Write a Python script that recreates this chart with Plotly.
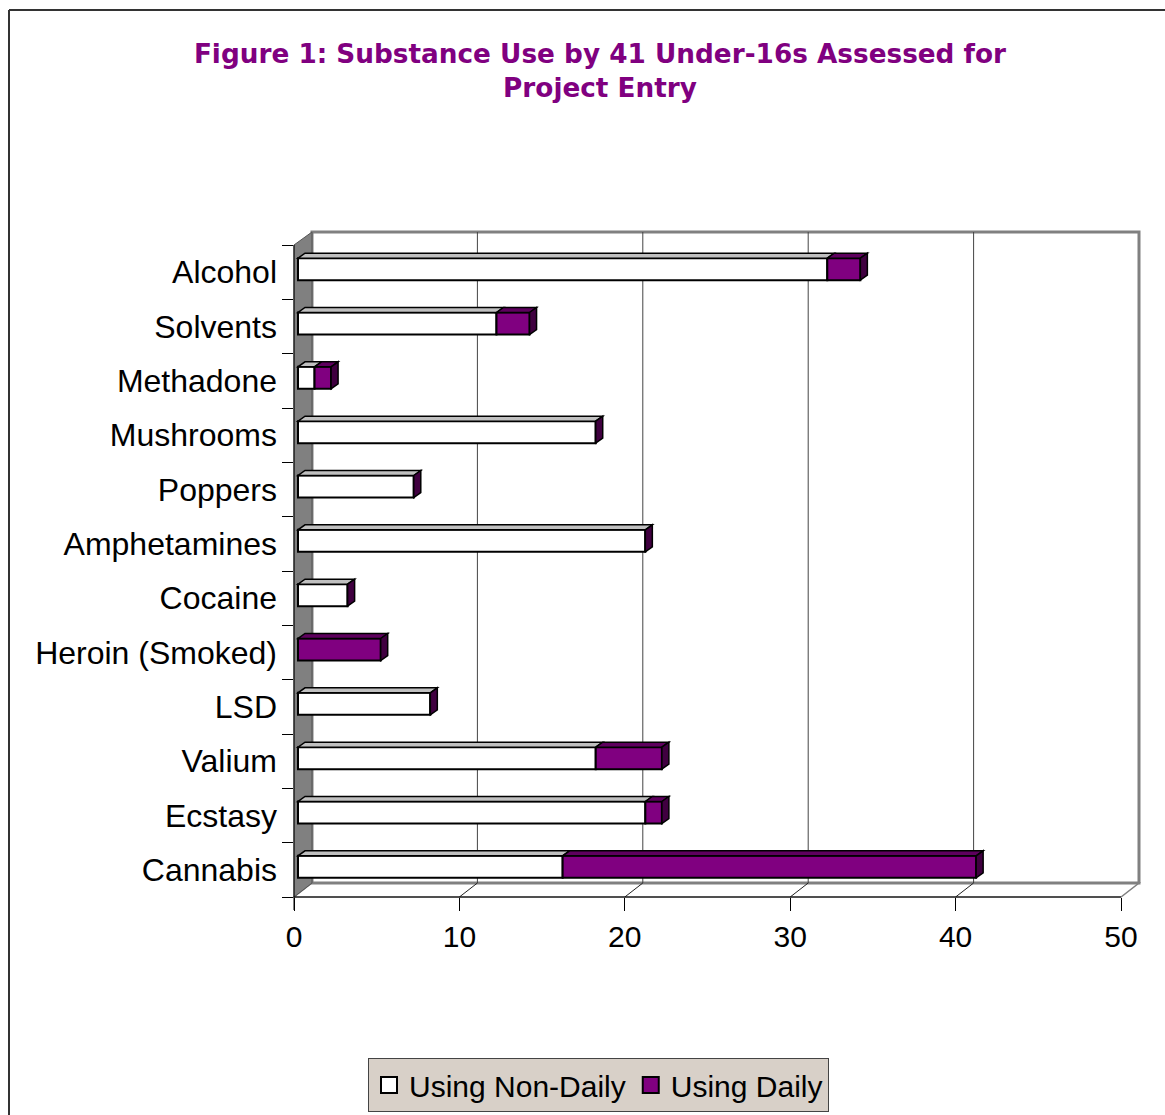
import plotly.graph_objects as go

# ---------------- data ----------------
categories = ["Alcohol", "Solvents", "Methadone", "Mushrooms", "Poppers",
              "Amphetamines", "Cocaine", "Heroin (Smoked)", "LSD", "Valium",
              "Ecstasy", "Cannabis"]
non_daily = [32, 12, 1, 18, 7, 21, 3, 0, 8, 18, 21, 16]
daily = [2, 2, 1, 0, 0, 0, 0, 5, 0, 4, 1, 25]
x_ticks = [0, 10, 20, 30, 40, 50]
series_names = ["Using Non-Daily", "Using Daily"]
title_text = "Figure 1: Substance Use by 41 Under-16s Assessed for<br>Project Entry"

# ---------------- geometry (pixels) ----------------
W, H = 1165, 1115
L, R, T, B = 294, 1145, 225, 897          # main plot area (front plane)
PW, PH = R - L, B - T
XMAX_FRONT = 50
SX = (1121 - 294) / XMAX_FRONT           # px per unit on x
N = len(categories)
SY = (B - 245) / N                       # px per category
DX, DY = 18, 14                          # depth of the 3-D box
BAR_SHIFT_X, BAR_SHIFT_Y = 4, 3          # bar front face offset into box
BDX, BDY = 7, 5                          # bar depth
BAR_W = 22 / SY

x_range = [0, PW / SX]
y_range = [N - 0.5, N - 0.5 - PH / SY]   # reversed: first category on top

PURPLE = "#800080"
PURPLE_TOP = "#5e005e"
PURPLE_SIDE = "#400040"
GRAY_TOP = "#c0c0c0"
WALL = "#808080"
FONT = "Liberation Sans, Arial, sans-serif"


def P(px, py):
    return (px - L) / PW, (B - py) / PH


def ppath(points):
    s = ""
    for k, (px, py) in enumerate(points):
        x, y = P(px, py)
        s += ("M" if k == 0 else "L") + f"{x:.5f},{y:.5f} "
    return s + "Z"


def pline(p0, p1, color, width, layer="below"):
    x0, y0 = P(*p0)
    x1, y1 = P(*p1)
    return dict(type="line", xref="paper", yref="paper", x0=x0, y0=y0, x1=x1, y1=y1,
                line=dict(color=color, width=width), layer=layer)


shapes = []
# outer chart border
shapes.append(pline((9, 1130), (9, 10), "#333333", 2, "above"))
shapes.append(pline((9, 10), (1180, 10), "#333333", 2, "above"))

x_end_front = L + XMAX_FRONT * SX
# floor
shapes.append(dict(type="path", xref="paper", yref="paper", layer="below",
                   path=ppath([(L, B), (x_end_front, B), (x_end_front + DX, B - DY), (L + DX, B - DY)]),
                   fillcolor="white", line=dict(color=WALL, width=1.5)))
# back wall
bx0, by0 = P(L + DX, 232)
bx1, by1 = P(x_end_front + DX, B - DY)
shapes.append(dict(type="rect", xref="paper", yref="paper", layer="below",
                   x0=bx0, y0=by0, x1=bx1, y1=by1, fillcolor="white",
                   line=dict(color=WALL, width=3)))
# gridlines on back wall + floor diagonals
for v in x_ticks[1:-1]:
    xb = L + DX + v * SX
    xf = L + v * SX
    shapes.append(pline((xb, 232), (xb, B - DY), "#444444", 1))
    shapes.append(pline((xf, B), (xb, B - DY), "#222222", 1))
# left wall
shapes.append(dict(type="path", xref="paper", yref="paper", layer="below",
                   path=ppath([(L, 245), (L + DX, 232), (L + DX, B - DY), (L, B)]),
                   fillcolor=WALL, line=dict(color="#555555", width=1)))
# front edges
shapes.append(pline((L, B), (x_end_front, B), "black", 1))
shapes.append(pline((L, 245), (L, 910), "black", 1))

# 3-D faces of the bars (top faces and end caps), in bar axis units
dxu = BDX / SX
dyu = BDY / SY
offset = -BAR_W / 2 - BAR_SHIFT_Y / SY


def dpath(points):
    return "M" + " L".join(f"{x:.4f},{y:.4f}" for x, y in points) + " Z"


for i, (a, d) in enumerate(zip(non_daily, daily)):
    yt = i + offset
    yb = yt + BAR_W
    if a > 0:
        shapes.append(dict(type="path", xref="x2", yref="y", layer="above",
                           path=dpath([(0, yt), (a, yt), (a + dxu, yt - dyu), (dxu, yt - dyu)]),
                           fillcolor=GRAY_TOP, line=dict(color="black", width=1.5)))
    if d > 0:
        shapes.append(dict(type="path", xref="x2", yref="y", layer="above",
                           path=dpath([(a, yt), (a + d, yt), (a + d + dxu, yt - dyu), (a + dxu, yt - dyu)]),
                           fillcolor=PURPLE_TOP, line=dict(color="black", width=1.5)))
    t = a + d
    shapes.append(dict(type="path", xref="x2", yref="y", layer="above",
                       path=dpath([(t, yt), (t + dxu, yt - dyu), (t + dxu, yb - dyu), (t, yb)]),
                       fillcolor=PURPLE_SIDE, line=dict(color="black", width=1.5)))

fig = go.Figure()
positions = list(range(N))
fig.add_trace(go.Bar(x=non_daily, y=positions, orientation="h", base=0,
                     width=BAR_W, offset=offset, xaxis="x2", yaxis="y",
                     marker=dict(color="white", line=dict(color="black", width=2)),
                     name=series_names[0], showlegend=False))
fig.add_trace(go.Bar(x=daily, y=positions, orientation="h", base=non_daily,
                     width=BAR_W, offset=offset, xaxis="x2", yaxis="y",
                     marker=dict(color=PURPLE, line=dict(color="black", width=2)),
                     name=series_names[1], showlegend=False))
# legend entries
for nm, col in zip(series_names, ["white", PURPLE]):
    fig.add_trace(go.Scatter(x=[None], y=[None], mode="markers", name=nm,
                             marker=dict(symbol="square", size=20, color=col,
                                         line=dict(color="black", width=2))))

lx, _ = P(598.5, 0)
_, ly = P(0, 1058)
tx = 600 / W

fig.update_layout(
    width=W, height=H,
    margin=dict(l=L, r=W - R, t=T, b=H - B, pad=0, autoexpand=False),
    paper_bgcolor="white", plot_bgcolor="rgba(0,0,0,0)",
    barmode="overlay",
    title=dict(text=title_text, x=tx, xanchor="center", xref="container",
               y=1 - 63 / H, yanchor="top",
               font=dict(family="DejaVu Sans, Verdana, sans-serif", size=26.3, color=PURPLE, weight="bold")),
    xaxis=dict(range=x_range, tickvals=x_ticks, ticks="outside", ticklen=13,
               tickcolor="black", tickwidth=1, showgrid=False, zeroline=False, showline=False,
               tickfont=dict(family=FONT, size=30, color="black")),
    xaxis2=dict(range=[x_range[0] - BAR_SHIFT_X / SX, x_range[1] - BAR_SHIFT_X / SX],
                overlaying="x", anchor="y", visible=False),
    yaxis=dict(range=y_range, tickvals=positions, ticktext=categories, ticks="",
               showgrid=False, zeroline=False, showline=False, ticklabelstandoff=16,
               tickfont=dict(family=FONT, size=32, color="black"),
               minor=dict(tickvals=[k - 0.5 for k in range(N + 1)], ticks="outside",
                          ticklen=11, tickcolor="black", tickwidth=1, showgrid=False)),
    legend=dict(orientation="h", x=lx, xanchor="center", y=ly, yanchor="top",
                bgcolor="#d8d0c8", bordercolor="#444444", borderwidth=1,
                font=dict(family=FONT, size=30, color="black"), itemsizing="trace",
                itemclick=False),
    shapes=shapes,
    showlegend=True,
)

fig.write_html("out.html")
